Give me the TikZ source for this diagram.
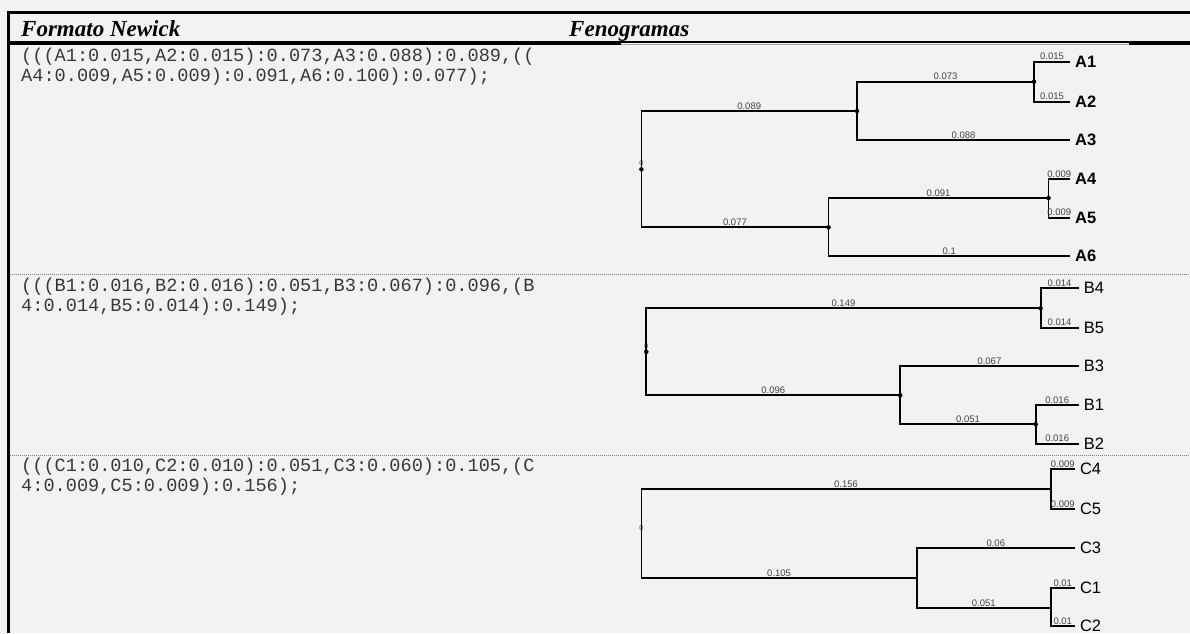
\documentclass[tikz,border=0pt]{standalone}
\usepackage{fontspec}
\setmainfont{Liberation Serif}
\setsansfont{Liberation Sans}
\setmonofont{Liberation Mono}
\definecolor{bg}{HTML}{F2F2F2}
\definecolor{lab}{HTML}{444444}
\definecolor{mono}{HTML}{383838}
\begin{document}
\begin{tikzpicture}[x=1pt,y=-1pt,
  br/.style={line width=1.8pt, black},
  bl/.style={font=\fontsize{9.5}{10}\selectfont\sffamily, text=lab, inner sep=1pt, above, pos=0.75},
  dot/.style={circle, fill=black, inner sep=0pt, minimum size=4.5pt},
  leafA/.style={anchor=west, inner xsep=5pt, inner ysep=0pt, font=\fontsize{16.5}{18}\selectfont\sffamily\bfseries},
  leafB/.style={anchor=west, inner xsep=5pt, inner ysep=0pt, font=\fontsize{16.5}{18}\selectfont\sffamily},
  nw/.style={anchor=base west, inner sep=0pt, font=\fontsize{18.6}{20}\selectfont\ttfamily, text=mono},
  hd/.style={anchor=base west, inner sep=0pt, font=\fontsize{23}{26}\selectfont\bfseries\itshape},
  rootlab/.style={font=\fontsize{7}{7}\selectfont\sffamily, text=lab, inner sep=0pt},
  sep/.style={line width=0.8pt, gray, dash pattern=on 1pt off 1pt}
]
\fill[bg] (0,0) rectangle (1190,633);
\useasboundingbox (0,0) rectangle (1190,633);

% table frame
\draw[line width=2.7pt] (7,12.7) -- (1190,12.7);
\draw[line width=2.5pt] (8.4,11.4) -- (8.4,633);
\draw[line width=4.3pt] (7,42.9) -- (1190,42.9);
\fill[bg] (621,42.8) rectangle (1129,45.2);
\draw[line width=0.9pt, gray!70] (621,44.4) -- (1129,44.4);
\draw[sep] (9.7,274) -- (1190,274);
\draw[sep] (9.7,455) -- (1190,455);

% headers
\node[hd] (h1) at (21,36) {Formato Newick};
\node[hd] (h2) at (569,36) {Fenogramas};

% Newick strings
\node[nw] (na1) at (21,61) {(((A1:0.015,A2:0.015):0.073,A3:0.088):0.089,((};
\node[nw] (na2) at (21,81) {A4:0.009,A5:0.009):0.091,A6:0.100):0.077);};
\node[nw] (nb1) at (21,291) {(((B1:0.016,B2:0.016):0.051,B3:0.067):0.096,(B};
\node[nw] (nb2) at (21,311.5) {4:0.014,B5:0.014):0.149);};
\node[nw] (nc1) at (21,471) {(((C1:0.010,C2:0.010):0.051,C3:0.060):0.105,(C};
\node[nw] (nc2) at (21,491.5) {4:0.009,C5:0.009):0.156);};

% ---------- Tree A ----------
\node[dot] (ra) at (641.4,169.3) {};
\node[rootlab] (ra0) at (641.4,163.3) {0};
\node[dot] (a123) at (857,111) {};
\node[dot] (a12) at (1034,81.7) {};
\node[dot] (a456) at (828.5,227.3) {};
\node[dot] (a45) at (1048.5,198) {};
\node[leafA] (A1) at (1070,61.7) {A1};
\node[leafA] (A2) at (1070,101.7) {A2};
\node[leafA] (A3) at (1070,140) {A3};
\node[leafA] (A4) at (1070,179) {A4};
\node[leafA] (A5) at (1070,217.7) {A5};
\node[leafA] (A6) at (1070,256) {A6};
\draw[br] (ra.center) |- node[bl]{0.089} (a123.center);
\draw[br] (ra.center) |- node[bl]{0.077} (a456.center);
\draw[br] (a123.center) |- node[bl]{0.073} (a12.center);
\draw[br] (a123.center) |- node[bl]{0.088} (A3.west);
\draw[br] (a12.center) |- node[bl]{0.015} (A1.west);
\draw[br] (a12.center) |- node[bl]{0.015} (A2.west);
\draw[br] (a456.center) |- node[bl]{0.091} (a45.center);
\draw[br] (a456.center) |- node[bl]{0.1} (A6.west);
\draw[br] (a45.center) |- node[bl]{0.009} (A4.west);
\draw[br] (a45.center) |- node[bl]{0.009} (A5.west);

% ---------- Tree B ----------
\node[dot] (rb) at (646.3,351.8) {};
\node[rootlab] (rb0) at (646.3,346.5) {0};
\node[dot] (b45) at (1040.6,308.3) {};
\node[dot] (b123) at (900.2,395.3) {};
\node[dot] (b12) at (1035.7,424.3) {};
\node[leafB] (B4) at (1078.6,288.3) {B4};
\node[leafB] (B5) at (1078.6,327.7) {B5};
\node[leafB] (B3) at (1078.6,366.3) {B3};
\node[leafB] (B1) at (1078.6,405) {B1};
\node[leafB] (B2) at (1078.6,443.7) {B2};
\draw[br] (rb.center) |- node[bl]{0.149} (b45.center);
\draw[br] (rb.center) |- node[bl]{0.096} (b123.center);
\draw[br] (b45.center) |- node[bl]{0.014} (B4.west);
\draw[br] (b45.center) |- node[bl]{0.014} (B5.west);
\draw[br] (b123.center) |- node[bl]{0.067} (B3.west);
\draw[br] (b123.center) |- node[bl]{0.051} (b12.center);
\draw[br] (b12.center) |- node[bl]{0.016} (B1.west);
\draw[br] (b12.center) |- node[bl]{0.016} (B2.west);

% ---------- Tree C ----------
\coordinate (rc) at (641.4,533.8);
\node[rootlab] (rc0) at (641.4,528.3) {0};
\coordinate (c45) at (1050.7,489.3);
\coordinate (c123) at (916.8,578.3);
\coordinate (c12) at (1050.7,608.3);
\node[leafB] (C4) at (1074.8,469.3) {C4};
\node[leafB] (C5) at (1074.8,509.3) {C5};
\node[leafB] (C3) at (1074.8,548.3) {C3};
\node[leafB] (C1) at (1074.8,588.3) {C1};
\node[leafB] (C2) at (1074.8,626) {C2};
\draw[br] (rc) |- node[bl]{0.156} (c45);
\draw[br] (rc) |- node[bl]{0.105} (c123);
\draw[br] (c45) |- node[bl]{0.009} (C4.west);
\draw[br] (c45) |- node[bl]{0.009} (C5.west);
\draw[br] (c123) |- node[bl]{0.06} (C3.west);
\draw[br] (c123) |- node[bl]{0.051} (c12);
\draw[br] (c12) |- node[bl]{0.01} (C1.west);
\draw[br] (c12) |- node[bl]{0.01} (C2.west);
\end{tikzpicture}
\end{document}
